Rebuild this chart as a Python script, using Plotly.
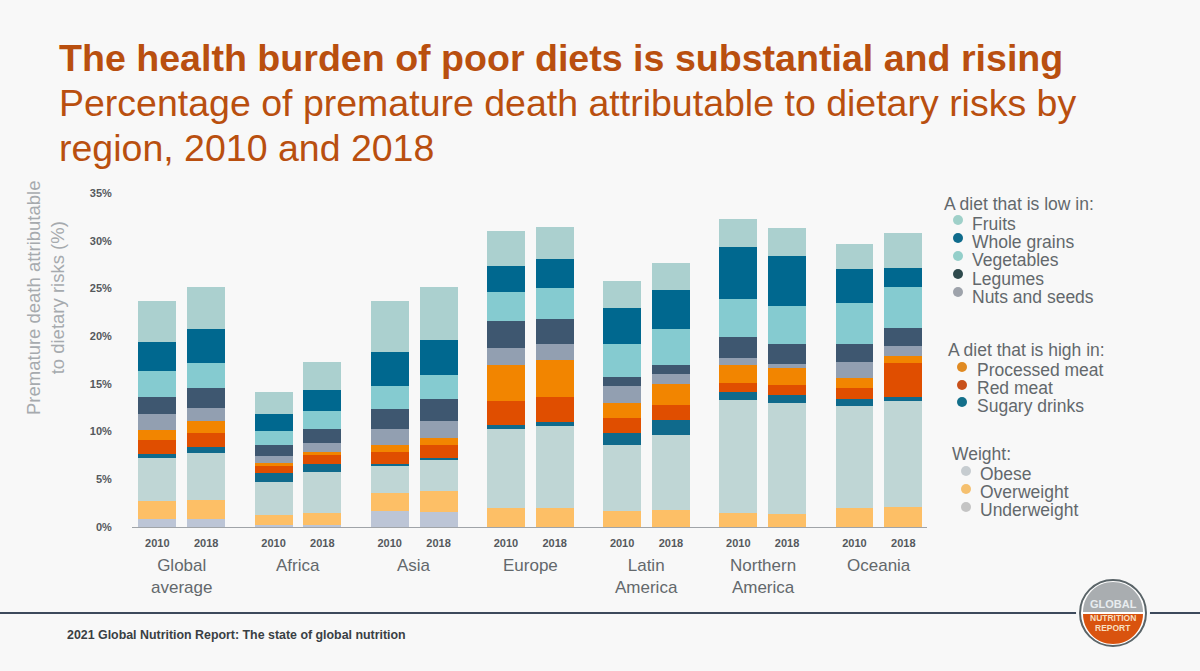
import plotly.graph_objects as go

W, H = 1200, 671
# plot area in pixels
L, R, T, B = 132, 927, 193, 527

regions = ["Global<br>average", "Africa", "Asia", "Europe", "Latin<br>America", "Northern<br>America", "Oceania"]
years = ["2010", "2018"]
y_ticks = [0, 5, 10, 15, 20, 25, 30, 35]

# values per bar: Global 2010, Global 2018, Africa 2010, ... Oceania 2018
underweight = [0.87, 0.87, 0.17, 0.17, 1.68, 1.57, 0.05, 0.05, 0.05, 0.05, 0.03, 0.03, 0.05, 0.05]
overweight = [1.83, 2.0, 1.13, 1.33, 1.89, 2.17, 1.98, 1.98, 1.59, 1.77, 1.47, 1.37, 1.98, 2.05]
obese = [4.57, 4.89, 3.4, 4.27, 2.9, 3.32, 8.21, 8.53, 7.0, 7.78, 11.86, 11.6, 10.67, 11.08]
sugary_drinks = [0.43, 0.64, 0.96, 0.87, 0.17, 0.21, 0.49, 0.44, 1.26, 1.6, 0.8, 0.88, 0.7, 0.46]
red_meat = [1.4, 1.4, 0.7, 0.86, 1.23, 1.37, 2.47, 2.64, 1.57, 1.63, 0.98, 0.98, 1.2, 3.56]
processed_meat = [1.1, 1.3, 0.34, 0.37, 0.7, 0.7, 3.76, 3.84, 1.57, 2.14, 1.82, 1.84, 1.03, 0.77]
nuts_seeds = [1.6, 1.4, 0.75, 0.98, 1.68, 1.76, 1.84, 1.68, 1.76, 1.03, 0.8, 0.43, 1.67, 1.03]
legumes = [1.8, 2.1, 1.12, 1.4, 2.09, 2.3, 2.77, 2.64, 0.93, 1.0, 2.1, 2.0, 1.83, 1.9]
vegetables = [2.7, 2.6, 1.5, 1.92, 2.46, 2.54, 3.08, 3.27, 3.47, 3.73, 4.04, 4.05, 4.37, 4.27]
whole_grains = [3.1, 3.5, 1.73, 2.23, 3.56, 3.64, 2.69, 3.03, 3.8, 4.07, 5.4, 5.25, 3.5, 1.93]
fruits = [4.3, 4.5, 2.36, 2.9, 5.31, 5.62, 3.66, 3.3, 2.77, 2.9, 3.0, 2.9, 2.7, 3.74]

# bottom to top
stack = [
    ("Underweight", underweight, "#bcc5d6"),
    ("Overweight", overweight, "#fdbf66"),
    ("Obese", obese, "#bfd6d5"),
    ("Sugary drinks", sugary_drinks, "#0f6a8c"),
    ("Red meat", red_meat, "#e04e00"),
    ("Processed meat", processed_meat, "#f28500"),
    ("Nuts and seeds", nuts_seeds, "#929fb1"),
    ("Legumes", legumes, "#3e5770"),
    ("Vegetables", vegetables, "#85cbd0"),
    ("Whole grains", whole_grains, "#00688f"),
    ("Fruits", fruits, "#abd0cf"),
]

# hand made legend: title, (title x, title y), text x, dot x, rows of (label, text y, dot y, colour)
legend_blocks = [
    ("A diet that is low in:", 942, 204, 970, 958, [
        ("Fruits", 224, 220, "#9fd0c9"),
        ("Whole grains", 242, 238, "#0f6b8c"),
        ("Vegetables", 260, 256, "#94cfca"),
        ("Legumes", 279, 274, "#2f4a4d"),
        ("Nuts and seeds", 297, 292, "#9ea3ab"),
    ]),
    ("A diet that is high in:", 946, 350, 975, 962, [
        ("Processed meat", 370, 367, "#e08a22"),
        ("Red meat", 388, 385, "#c8501a"),
        ("Sugary drinks", 406, 402, "#136f8a"),
    ]),
    ("Weight:", 950, 454, 978, 966, [
        ("Obese", 474, 471, "#c6ccd0"),
        ("Overweight", 492, 489, "#f5c06f"),
        ("Underweight", 510, 507, "#c4c4c4"),
    ]),
]

ORANGE = "#b94f0f"
GREY_TEXT = "#63686c"
BG = "#f8f8f8"
FONT = "Liberation Sans"


def px(x):
    return (x - L) / (R - L)


def py(y):
    return (B - y) / (B - T)


def label(text, x, y, size, color, bold=False, anchor="left", angle=0):
    if bold:
        text = "<b>" + text + "</b>"
    return dict(text=text, x=px(x), y=py(y), xref="paper", yref="paper", showarrow=False,
                xanchor=anchor, yanchor="middle", align="center" if anchor == "center" else "left",
                textangle=angle, font=dict(family=FONT, size=size, color=color))


def circle(x, y, r, fill, line=None):
    return dict(type="circle", xref="paper", yref="paper", x0=px(x - r), x1=px(x + r),
                y0=py(y + r), y1=py(y - r), fillcolor=fill,
                line=dict(width=2 if line else 0, color=line or fill))


def half_disc(x, y, r, fill, top):
    # half circle from two bezier arcs
    s = -1 if top else 1
    k = 0.5523 * r
    pts = [(x - r, y), (x - r, y + s * k), (x - k, y + s * r), (x, y + s * r),
           (x + k, y + s * r), (x + r, y + s * k), (x + r, y)]
    p = [f"{px(a):.5f},{py(b):.5f}" for a, b in pts]
    path = f"M{p[0]} C{p[1]} {p[2]} {p[3]} C{p[4]} {p[5]} {p[6]} Z"
    return dict(type="path", xref="paper", yref="paper", path=path, fillcolor=fill, line=dict(width=0))


# one bar per region and year, regions one unit apart
bar_x = []
for i in range(len(regions)):
    bar_x += [i - 0.21, i + 0.21]

fig = go.Figure()
for name, values, color in stack:
    fig.add_trace(go.Bar(x=bar_x, y=values, name=name, width=0.327, marker=dict(color=color, line=dict(width=0))))

annotations = [
    label("The health burden of poor diets is substantial and rising", 57, 58, 37.6, ORANGE, bold=True),
    label("Percentage of premature death attributable to dietary risks by", 57, 103, 37.5, ORANGE),
    label("region, 2010 and 2018", 57, 148, 37.5, ORANGE),
    label("Premature death attributable<br>to dietary risks (%)", 45, 298, 18.5, "#a6aaae", anchor="center", angle=-90),
    label("2021 Global Nutrition Report: The state of global nutrition", 65, 635, 12.4, "#3a3f44", bold=True),
    label("GLOBAL", 1113, 604, 11, "#e8ecef", bold=True, anchor="center"),
    label("NUTRITION", 1113, 618, 8.5, "#f7dfc0", bold=True, anchor="center"),
    label("REPORT", 1113, 628, 8.5, "#f7dfc0", bold=True, anchor="center"),
]
for i, region in enumerate(regions):
    annotations.append(dict(text=region, x=i, y=py(554), xref="x", yref="paper", showarrow=False,
                            xanchor="center", yanchor="top", align="center",
                            font=dict(family=FONT, size=17, color=GREY_TEXT)))

shapes = [
    dict(type="line", xref="paper", yref="paper", x0=px(0), x1=px(W), y0=py(613), y1=py(613),
         line=dict(color="#3d4a5c", width=2)),
    circle(1113, 613, 37, BG),
    circle(1113, 613, 33, "#ffffff", "#5a6468"),
    half_disc(1113, 612, 30, "#a9adb0", True),
    half_disc(1113, 614, 30, "#d9530f", False),
]
for title, tx, ty, text_x, dot_x, rows in legend_blocks:
    annotations.append(label(title, tx, ty, 17.5, GREY_TEXT))
    for name, text_y, dot_y, color in rows:
        annotations.append(label(name, text_x, text_y, 17.5, GREY_TEXT))
        shapes.append(circle(dot_x, dot_y, 5, color))

fig.update_layout(
    width=W, height=H,
    barmode="stack", showlegend=False,
    paper_bgcolor=BG, plot_bgcolor=BG,
    margin=dict(l=L, r=W - R, t=T, b=H - B, pad=0),
    annotations=annotations, shapes=shapes,
    font=dict(family=FONT),
)
fig.update_xaxes(
    range=[-0.428, 6.414], tickmode="array", tickvals=bar_x, ticktext=years * len(regions),
    ticks="outside", ticklen=6, tickcolor="rgba(0,0,0,0)", showgrid=False, zeroline=False,
    showline=True, linecolor="#a0a4a8", linewidth=1,
    tickfont=dict(family=FONT, size=11, color="#55595d", weight="bold"),
)
fig.update_yaxes(
    range=[0, 35], tickmode="array", tickvals=y_ticks, ticktext=[f"{v}%" for v in y_ticks],
    ticks="outside", ticklen=17, tickcolor="rgba(0,0,0,0)", showgrid=False, zeroline=False, showline=False,
    tickfont=dict(family=FONT, size=11, color="#55595d", weight="bold"),
)

fig.write_html("out.html", config=dict(displayModeBar=False), post_script="document.body.style.margin='0';")
